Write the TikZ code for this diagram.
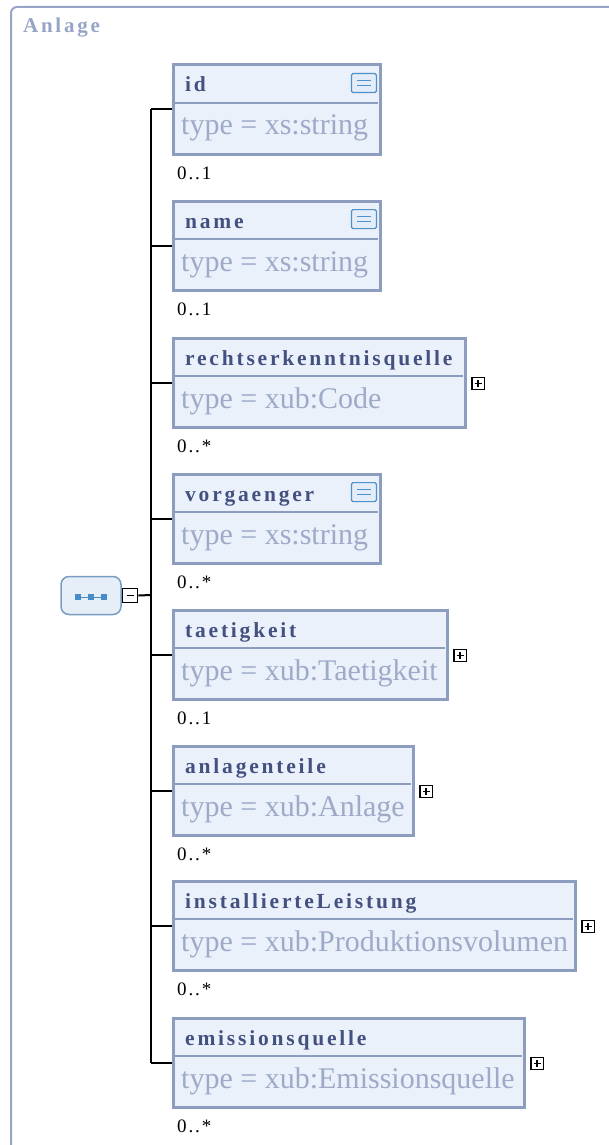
\documentclass[tikz,border=0pt]{standalone}
\usepackage{fontspec}
\setmainfont{Liberation Serif}
\newfontfamily\headfont{Liberation Serif}[LetterSpace=13]
\newfontfamily\multfont{Liberation Serif}[LetterSpace=10]
\usetikzlibrary{calc}
\definecolor{boxline}{RGB}{140,157,192}
\definecolor{boxfill}{RGB}{234,241,251}
\definecolor{headcol}{RGB}{68,81,128}
\definecolor{typecol}{RGB}{158,170,200}
\definecolor{framecol}{RGB}{150,165,198}
\definecolor{iconline}{RGB}{80,145,200}
\definecolor{iconfill}{RGB}{226,237,249}
\definecolor{seqline}{RGB}{122,156,196}
\definecolor{seqfill}{RGB}{230,238,248}
\definecolor{dotcol}{RGB}{70,140,200}
\tikzset{
  elem/.style={draw=boxline, fill=boxfill, line width=3pt, anchor=north west,
    minimum height=89pt, inner sep=0pt},
  sep/.style={draw=boxline, line width=2pt},
  headtxt/.style={anchor=base west, inner sep=0pt, text=headcol,
    font=\headfont\bfseries\fontsize{21.5}{22}\selectfont},
  typetxt/.style={anchor=base west, inner sep=0pt, text=typecol,
    font=\fontsize{30}{30}\selectfont},
  multtxt/.style={anchor=base west, inner sep=0pt,
    font=\multfont\fontsize{19}{19}\selectfont},
  wire/.style={draw=black, line width=2pt},
  docicon/.style={draw=iconline, fill=iconfill, line width=1.2pt, rounded corners=1.5pt,
    anchor=north east, minimum width=25pt, minimum height=19pt, inner sep=0pt,
    path picture={
      \draw[iconline, line width=1pt, sharp corners] ([shift={(-7pt,-2.5pt)}]path picture bounding box.center) -- ([shift={(7pt,-2.5pt)}]path picture bounding box.center);
      \draw[iconline, line width=1pt, sharp corners] ([shift={(-7pt,2.5pt)}]path picture bounding box.center) -- ([shift={(7pt,2.5pt)}]path picture bounding box.center);
    }},
  plusbox/.style={draw=black, fill=white, line width=1.6pt, anchor=west,
    minimum width=12.5pt, minimum height=12pt, inner sep=0pt,
    path picture={
      \draw[line width=1.6pt] ([xshift=-3.5pt]path picture bounding box.center) -- ([xshift=3.5pt]path picture bounding box.center);
      \draw[line width=1.6pt] ([yshift=-3.5pt]path picture bounding box.center) -- ([yshift=3.5pt]path picture bounding box.center);
    }},
  minusbox/.style={draw=black, fill=white, line width=1.7pt, anchor=west,
    minimum width=15pt, minimum height=14pt, inner sep=0pt,
    path picture={
      \draw[line width=1.7pt] ([xshift=-3.5pt]path picture bounding box.center) -- ([xshift=3.5pt]path picture bounding box.center);
    }},
  seqbox/.style={draw=seqline, fill=seqfill, line width=1.5pt, rounded corners=8pt,
    minimum width=60pt, minimum height=38pt, inner sep=0pt,
    path picture={
      \draw[dotcol, line width=1pt, sharp corners] ([shift={(-13pt,-1.5pt)}]path picture bounding box.center) -- ([shift={(13pt,-1.5pt)}]path picture bounding box.center);
      \foreach \dx in {-13,0,13}
        \fill[dotcol, sharp corners] ([shift={(\dx pt,-1.5pt)}]path picture bounding box.center) +(-3pt,-3pt) rectangle +(3pt,3pt);
    }}
}
\begin{document}
\begin{tikzpicture}[x=1pt, y=-1pt]
	\useasboundingbox (0,0) rectangle (609,1145);
	\clip (0,0) rectangle (609,1145);
	% outer frame
	\draw[draw=framecol, line width=2pt, rounded corners=6pt] (11,1170) -- (11,7) -- (630,7);
	\node[anchor=base west, inner sep=0pt, text=framecol, font=\headfont\bfseries\fontsize{21}{22}\selectfont] (title) at (23,33) {Anlage};

	% compositor
	\node[seqbox] (seq) at (91,595.5) {};
	\node[minusbox] (mn) at (seq.east) {};
	\coordinate (spine) at (151,595);

	% id
	\node[elem, minimum width=207pt] (id) at (171.5,63.5) {};
	\draw[sep] ($(id.north west)+(0,39.5)$) -- ($(id.north east)+(-4,39.5)$);
	\node[headtxt] (idh) at ($(id.north west)+(13.5,28.5)$) {id};
	\node[docicon] (idi) at ($(id.north east)+(-4.5,9.5)$) {};
	\node[typetxt] (idt) at ($(id.north west)+(9.5,71.5)$) {type = xs:string};
	\node[multtxt] (idm) at ($(id.south west)+(5.5,23.5)$) {0..1};

	% name
	\node[elem, minimum width=207pt] (name) at (171.5,199.5) {};
	\draw[sep] ($(name.north west)+(0,39.5)$) -- ($(name.north east)+(-4,39.5)$);
	\node[headtxt] (nameh) at ($(name.north west)+(13.5,28.5)$) {name};
	\node[docicon] (namei) at ($(name.north east)+(-4.5,9.5)$) {};
	\node[typetxt] (namet) at ($(name.north west)+(9.5,71.5)$) {type = xs:string};
	\node[multtxt] (namem) at ($(name.south west)+(5.5,23.5)$) {0..1};

	% rechtserkenntnisquelle
	\node[elem, minimum width=292pt] (rechts) at (171.5,336.5) {};
	\draw[sep] ($(rechts.north west)+(0,39.5)$) -- ($(rechts.north east)+(-4,39.5)$);
	\node[headtxt] (rechtsh) at ($(rechts.north west)+(13.5,28.5)$) {rechtserkenntnisquelle};
	\node[plusbox] (rechtsp) at ($(rechts.east)+(4.5,1)$) {};
	\node[typetxt] (rechtst) at ($(rechts.north west)+(9.5,71.5)$) {type = xub:Code};
	\node[multtxt] (rechtsm) at ($(rechts.south west)+(5.5,23.5)$) {0..*};

	% vorgaenger
	\node[elem, minimum width=207pt] (vorg) at (171.5,472.5) {};
	\draw[sep] ($(vorg.north west)+(0,39.5)$) -- ($(vorg.north east)+(-4,39.5)$);
	\node[headtxt] (vorgh) at ($(vorg.north west)+(13.5,28.5)$) {vorgaenger};
	\node[docicon] (vorgi) at ($(vorg.north east)+(-4.5,9.5)$) {};
	\node[typetxt] (vorgt) at ($(vorg.north west)+(9.5,71.5)$) {type = xs:string};
	\node[multtxt] (vorgm) at ($(vorg.south west)+(5.5,23.5)$) {0..*};

	% taetigkeit
	\node[elem, minimum width=274pt] (taet) at (171.5,608.5) {};
	\draw[sep] ($(taet.north west)+(0,39.5)$) -- ($(taet.north east)+(-4,39.5)$);
	\node[headtxt] (taeth) at ($(taet.north west)+(13.5,28.5)$) {taetigkeit};
	\node[plusbox] (taetp) at ($(taet.east)+(4.5,1)$) {};
	\node[typetxt] (taett) at ($(taet.north west)+(9.5,71.5)$) {type = xub:Taetigkeit};
	\node[multtxt] (taetm) at ($(taet.south west)+(5.5,23.5)$) {0..1};

	% anlagenteile
	\node[elem, minimum width=240pt] (anl) at (171.5,744.5) {};
	\draw[sep] ($(anl.north west)+(0,39.5)$) -- ($(anl.north east)+(-4,39.5)$);
	\node[headtxt] (anlh) at ($(anl.north west)+(13.5,28.5)$) {anlagenteile};
	\node[plusbox] (anlp) at ($(anl.east)+(4.5,1)$) {};
	\node[typetxt] (anlt) at ($(anl.north west)+(9.5,71.5)$) {type = xub:Anlage};
	\node[multtxt] (anlm) at ($(anl.south west)+(5.5,23.5)$) {0..*};

	% installierteLeistung
	\node[elem, minimum width=402pt] (inst) at (171.5,879.5) {};
	\draw[sep] ($(inst.north west)+(0,39.5)$) -- ($(inst.north east)+(-4,39.5)$);
	\node[headtxt] (insth) at ($(inst.north west)+(13.5,28.5)$) {installierteLeistung};
	\node[plusbox] (instp) at ($(inst.east)+(4.5,1)$) {};
	\node[typetxt] (instt) at ($(inst.north west)+(9.5,71.5)$) {type = xub:Produktionsvolumen};
	\node[multtxt] (instm) at ($(inst.south west)+(5.5,23.5)$) {0..*};

	% emissionsquelle
	\node[elem, minimum width=351pt] (emi) at (171.5,1016.5) {};
	\draw[sep] ($(emi.north west)+(0,39.5)$) -- ($(emi.north east)+(-4,39.5)$);
	\node[headtxt] (emih) at ($(emi.north west)+(13.5,28.5)$) {emissionsquelle};
	\node[plusbox] (emip) at ($(emi.east)+(4.5,1)$) {};
	\node[typetxt] (emit) at ($(emi.north west)+(9.5,71.5)$) {type = xub:Emissionsquelle};
	\node[multtxt] (emim) at ($(emi.south west)+(5.5,23.5)$) {0..*};

	% connectors
	\draw[wire] (mn.east) -- (spine);
	\draw[wire] (spine |- id.west) -- (spine |- emi.west);
	\draw[wire] (spine |- id.west) -- (id.west);
	\draw[wire] (spine |- name.west) -- (name.west);
	\draw[wire] (spine |- rechts.west) -- (rechts.west);
	\draw[wire] (spine |- vorg.west) -- (vorg.west);
	\draw[wire] (spine |- taet.west) -- (taet.west);
	\draw[wire] (spine |- anl.west) -- (anl.west);
	\draw[wire] (spine |- inst.west) -- (inst.west);
	\draw[wire] (spine |- emi.west) -- (emi.west);
\end{tikzpicture}
\end{document}
